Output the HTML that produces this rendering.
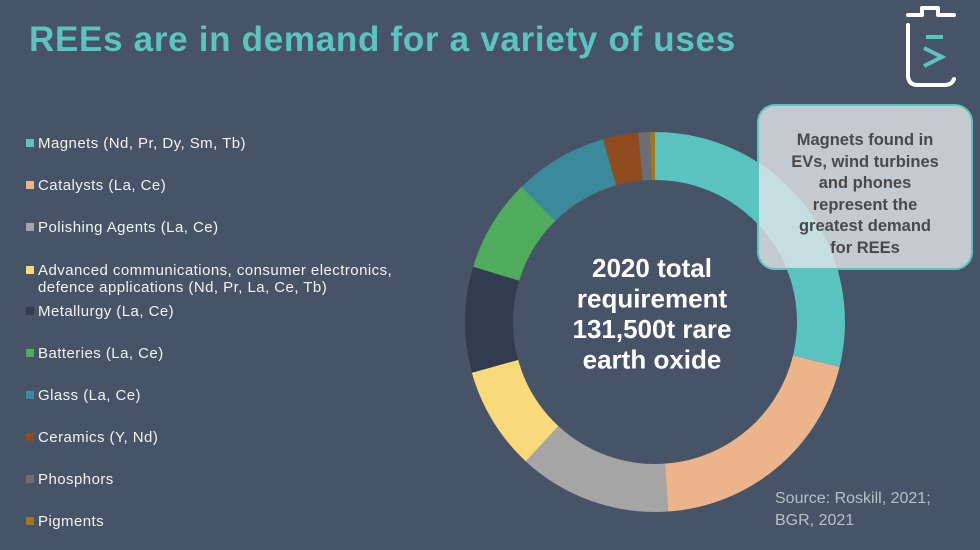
<!DOCTYPE html>
<html><head><meta charset="utf-8"><style>
html,body{margin:0;padding:0}
body{width:980px;height:550px;background:#475366;position:relative;overflow:hidden;font-family:"Liberation Sans",sans-serif}
#title{position:absolute;left:29px;top:20px;font-size:35px;font-weight:bold;color:#5bc4bf;letter-spacing:0.7px;white-space:nowrap}
.leg{position:absolute;left:26px;color:#f2f2f2;font-size:15px;line-height:17px;white-space:nowrap;letter-spacing:0.45px}
.leg i{display:inline-block;width:8px;height:8px;margin-right:4px;vertical-align:1px}
#callout{position:absolute;left:757px;top:104px;width:216px;height:166px;box-sizing:border-box;border:2px solid #5bc4bf;border-radius:18px;background:rgba(222,228,232,0.82);color:#4a4a4a;font-weight:bold;font-size:16.5px;line-height:21.5px;text-align:center;padding-top:24px}
#src{position:absolute;left:775px;top:488px;color:#b8bfc8;font-size:16px;line-height:22px}
</style></head><body>
<div id="title">REEs are in demand for a variety of uses</div>
<div id="legend"></div>
<svg id="chart" width="980" height="550" style="position:absolute;left:0;top:0"></svg>
<div id="callout">Magnets found in<br>EVs, wind turbines<br>and phones<br>represent the<br>greatest demand<br>for REEs</div>
<div id="src">Source: Roskill, 2021;<br>BGR, 2021</div>
<svg width="110" height="110" viewBox="0 0 110 110" style="position:absolute;left:870px;top:0">
<path d="M38 15 H52 V8 H68 V15 H84" fill="none" stroke="#fff" stroke-width="4" stroke-linecap="round" stroke-linejoin="round"/>
<path d="M38 25 V75 Q38 85 48 85 H74 Q82 85 84 79" fill="none" stroke="#fff" stroke-width="4" stroke-linecap="round"/>
<path d="M56 37 H73" stroke="#5bc4bf" stroke-width="4"/>
<path d="M54 48 L72 57 L54 66" fill="none" stroke="#5bc4bf" stroke-width="4"/>
</svg>
<script>
const categories=["Magnets (Nd, Pr, Dy, Sm, Tb)","Catalysts (La, Ce)","Polishing Agents (La, Ce)","Advanced communications, consumer electronics,\ndefence applications (Nd, Pr, La, Ce, Tb)","Metallurgy (La, Ce)","Batteries (La, Ce)","Glass (La, Ce)","Ceramics (Y, Nd)","Phosphors","Pigments"];
const values=[28.8,20.1,13,8.8,9,7.9,8,3,1,0.4];
const colors=["#59c3bf","#ebb48a","#a5a5a5","#f8da7a","#323c4f","#4fac5c","#3a8a9c","#8f4b1e","#6b6e73","#a07a1a"];
const legendTops=[135,177,219,262,303,345,387,429,471,513];
const names=["magnets","catalysts","polishing","advanced-comms","metallurgy","batteries","glass","ceramics","phosphors","pigments"];
const leg=document.getElementById('legend');
categories.forEach((c,i)=>{
  const d=document.createElement('div');
  d.className='leg';d.style.top=legendTops[i]+'px';
  
  
  const lines=c.split('\n');
  d.innerHTML='<i style="background:'+colors[i]+'"></i>'+lines[0]+(lines[1]?'<br><span style="margin-left:12px">'+lines[1]+'</span>':'');
  leg.appendChild(d);
});
const svg=document.getElementById('chart');const NS='http://www.w3.org/2000/svg';
const cx=655,cy=322,R=190,r=142;
const total=values.reduce((a,b)=>a+b,0);
function pt(a,rad){return [cx+rad*Math.sin(a),cy-rad*Math.cos(a)];}
let acc=0;
values.forEach((v,i)=>{
  const a0=acc/total*2*Math.PI;acc+=v;const a1=acc/total*2*Math.PI;
  const lg=(a1-a0)>Math.PI?1:0;
  const p0=pt(a0,R),p1=pt(a1,R),q1=pt(a1,r),q0=pt(a0,r);
  const p=document.createElementNS(NS,'path');
  p.setAttribute('d',`M${p0} A${R},${R} 0 ${lg} 1 ${p1} L${q1} A${r},${r} 0 ${lg} 0 ${q0} Z`);
  p.setAttribute('fill',colors[i]);
  
  
  svg.appendChild(p);
});
const lines=["2020 total","requirement","131,500t rare","earth oxide"];
lines.forEach((l,i)=>{
  const t=document.createElementNS(NS,'text');
  t.setAttribute('x',cx-3);t.setAttribute('y',277+i*30.5);
  t.setAttribute('text-anchor','middle');t.setAttribute('fill','#fff');
  t.setAttribute('font-size','26');t.setAttribute('font-weight','bold');
  t.setAttribute('font-family','Liberation Sans, sans-serif');
  
  
  t.textContent=l;svg.appendChild(t);
});
</script>
</body></html>
